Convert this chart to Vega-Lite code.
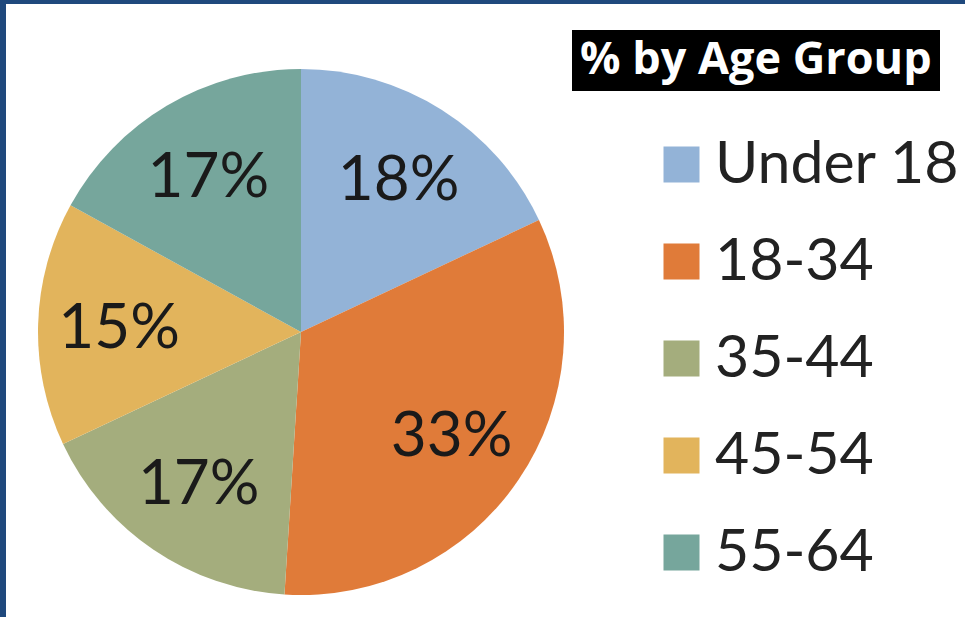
{
  "$schema": "https://vega.github.io/schema/vega-lite/v6.json",
  "width": 959,
  "height": 613,
  "autosize": {"type": "none"},
  "padding": {"left": 6, "top": 4, "right": 0, "bottom": 0},
  "background": "#1F497D",
  "view": {"fill": "white", "stroke": "white", "strokeWidth": 0},
  "data": {"values": [
    {"group": "Under 18", "pct": 18, "label": "18%", "ord": 1, "all": "t"},
    {"group": "18-34", "pct": 33, "label": "33%", "ord": 2, "all": "t"},
    {"group": "35-44", "pct": 17, "label": "17%", "ord": 3, "all": "t"},
    {"group": "45-54", "pct": 15, "label": "15%", "ord": 4, "all": "t"},
    {"group": "55-64", "pct": 17, "label": "17%", "ord": 5, "all": "t"}
  ]},
  "encoding": {
    "theta": {"field": "pct", "type": "quantitative", "stack": true},
    "order": {"field": "ord", "type": "quantitative"}
  },
  "layer": [
    {
      "mark": {"type": "arc", "outerRadius": 263, "xOffset": -184.5, "yOffset": 21.5},
      "encoding": {
        "color": {
          "field": "group", "type": "nominal",
          "scale": {"domain": ["Under 18", "18-34", "35-44", "45-54", "55-64"],
                    "range": ["#93B3D7", "#E07B39", "#A4AD7D", "#E2B45C", "#76A69C"]},
          "legend": {
            "orient": "none", "legendX": 646, "legendY": 131, "title": null,
            "symbolType": "square", "symbolSize": 1296, "symbolStrokeWidth": 0,
            "labelFont": "Lato", "labelFontSize": 59, "labelColor": "#222222",
            "labelOffset": 4, "rowPadding": 37, "labelLimit": 400
          }
        },
        "opacity": {
          "field": "all", "type": "nominal",
          "scale": {"range": [1, 1]},
          "legend": {
            "orient": "none", "legendX": 566, "legendY": 26, "values": [],
            "title": "% by Age Group", "titleFont": "Open Sans", "titleFontWeight": "bold",
            "titleFontSize": 45, "titleColor": "white", "titleLimit": 600, "fillColor": "black",
            "padding": 8, "titlePadding": 0
          }
        }
      }
    },
    {
      "mark": {"type": "text", "radius": 182, "xOffset": -184.5, "yOffset": 24,
               "font": "Lato", "fontSize": 62, "color": "#1a1a1a"},
      "encoding": {"text": {"field": "label"}}
    }
  ]
}
